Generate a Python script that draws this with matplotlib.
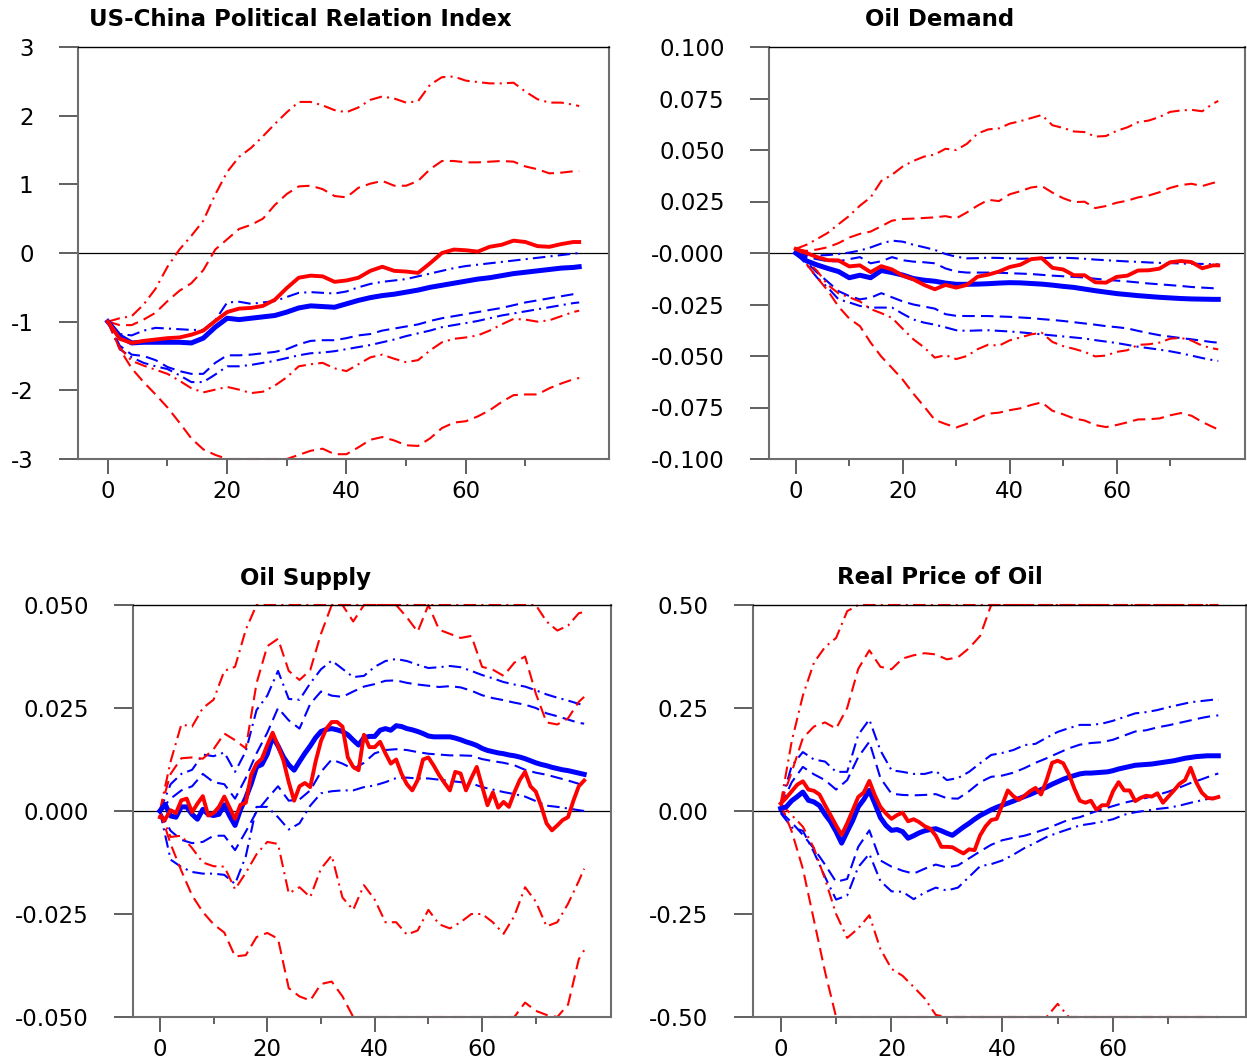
import numpy as np
import matplotlib
matplotlib.use("Agg")
import matplotlib.pyplot as plt

plt.rcParams['font.family'] = 'DejaVu Sans'
plt.rcParams['axes.unicode_minus'] = False

# horizons: mean lines of the lower panels are read every step, the rest every 2 steps
T_FINE = np.arange(80)
T_BAND = np.r_[np.arange(0, 80, 2), 79]

TITLES = ["US-China Political Relation Index", "Oil Demand", "Oil Supply", "Real Price of Oil"]

# naming: _DD = dash-dot band, _DA = dashed band, HI/LO = above/below the mean

# ---------------- US-China Political Relation Index ----------------
P1_YTICKS = [3, 2, 1, 0, -1, -2, -3]
P1_YLABELS = ["3", "2", "1", "0", "-1", "-2", "-3"]
P1_BLUE_MEAN = [-1.00, -1.21, -1.31, -1.30, -1.30, -1.30, -1.30, -1.31, -1.24, -1.08,
                -0.95, -0.97, -0.95, -0.93, -0.91, -0.86, -0.80, -0.77, -0.78, -0.79,
                -0.74, -0.69, -0.65, -0.62, -0.60, -0.57, -0.54, -0.50, -0.47, -0.44,
                -0.41, -0.38, -0.36, -0.33, -0.30, -0.28, -0.26, -0.24, -0.22, -0.21, -0.20]
P1_BLUE_HI_DD = [-1.00, -1.18, -1.20, -1.13, -1.09, -1.10, -1.11, -1.12, -1.12, -0.98,
                 -0.72, -0.71, -0.74, -0.72, -0.70, -0.64, -0.58, -0.57, -0.58, -0.59,
                 -0.56, -0.50, -0.45, -0.42, -0.40, -0.38, -0.34, -0.30, -0.26, -0.22,
                 -0.19, -0.17, -0.15, -0.13, -0.11, -0.09, -0.07, -0.05, -0.03, -0.01, 0.00]
P1_BLUE_HI_DA = None
P1_BLUE_LO_DA = [-1.00, -1.35, -1.48, -1.50, -1.56, -1.66, -1.72, -1.76, -1.76, -1.60,
                 -1.49, -1.49, -1.48, -1.46, -1.44, -1.40, -1.33, -1.28, -1.27, -1.27,
                 -1.24, -1.20, -1.18, -1.13, -1.10, -1.07, -1.04, -0.99, -0.95, -0.92,
                 -0.89, -0.86, -0.83, -0.80, -0.76, -0.72, -0.69, -0.66, -0.63, -0.60, -0.59]
P1_BLUE_LO_DD = [-1.00, -1.40, -1.52, -1.60, -1.65, -1.69, -1.78, -1.88, -1.88, -1.77,
                 -1.65, -1.65, -1.63, -1.60, -1.57, -1.53, -1.49, -1.46, -1.45, -1.43,
                 -1.40, -1.37, -1.34, -1.30, -1.26, -1.21, -1.17, -1.13, -1.08, -1.05,
                 -1.02, -0.99, -0.95, -0.91, -0.88, -0.85, -0.82, -0.79, -0.76, -0.73, -0.72]
P1_RED_MEAN = [-1.00, -1.25, -1.31, -1.28, -1.26, -1.24, -1.23, -1.19, -1.13, -0.99,
               -0.86, -0.81, -0.80, -0.77, -0.68, -0.51, -0.36, -0.33, -0.34, -0.42,
               -0.40, -0.36, -0.26, -0.20, -0.26, -0.27, -0.29, -0.15, 0.00, 0.05,
               0.04, 0.02, 0.09, 0.12, 0.18, 0.16, 0.10, 0.09, 0.13, 0.16, 0.16]
P1_RED_HI_DD = [-1.00, -0.95, -0.92, -0.75, -0.52, -0.20, 0.05, 0.25, 0.47, 0.85,
                1.18, 1.40, 1.53, 1.70, 1.88, 2.05, 2.20, 2.20, 2.15, 2.08,
                2.05, 2.12, 2.23, 2.28, 2.25, 2.19, 2.21, 2.45, 2.56, 2.57,
                2.51, 2.49, 2.47, 2.47, 2.48, 2.35, 2.24, 2.19, 2.19, 2.16, 2.14]
P1_RED_HI_DA = [-1.00, -1.05, -1.05, -0.97, -0.87, -0.70, -0.55, -0.44, -0.25, 0.05,
                0.20, 0.35, 0.41, 0.50, 0.70, 0.86, 0.97, 0.98, 0.93, 0.83,
                0.81, 0.95, 1.01, 1.05, 0.98, 0.98, 1.05, 1.22, 1.34, 1.34,
                1.32, 1.32, 1.33, 1.34, 1.33, 1.26, 1.22, 1.16, 1.17, 1.19, 1.19]
P1_RED_LO_DD = [-1.00, -1.38, -1.57, -1.64, -1.70, -1.76, -1.86, -1.97, -2.03, -1.99,
                -1.95, -1.99, -2.04, -2.02, -1.93, -1.81, -1.65, -1.62, -1.60, -1.68,
                -1.72, -1.62, -1.52, -1.48, -1.54, -1.59, -1.56, -1.42, -1.30, -1.25,
                -1.23, -1.20, -1.13, -1.04, -0.96, -0.97, -1.00, -0.98, -0.92, -0.86, -0.84]
P1_RED_LO_DA = [-1.00, -1.40, -1.68, -1.88, -2.06, -2.25, -2.47, -2.70, -2.86, -2.94,
                -3.00, -3.00, -3.00, -3.00, -3.00, -3.00, -2.94, -2.88, -2.85, -2.93,
                -2.93, -2.83, -2.72, -2.68, -2.73, -2.80, -2.81, -2.70, -2.55, -2.47,
                -2.45, -2.38, -2.29, -2.17, -2.07, -2.06, -2.06, -1.97, -1.90, -1.84, -1.82]

# ---------------- Oil Demand ----------------
P2_YTICKS = [0.1, 0.075, 0.05, 0.025, 0.0, -0.025, -0.05, -0.075, -0.1]
P2_YLABELS = ["0.100", "0.075", "0.050", "0.025", "-0.000", "-0.025", "-0.050", "-0.075", "-0.100"]
P2_BLUE_MEAN = [0.0, -0.0038, -0.0058, -0.0075, -0.009, -0.012, -0.0108, -0.012, -0.0085, -0.0095,
                -0.0107, -0.0124, -0.0132, -0.0137, -0.0146, -0.0152, -0.0152, -0.0151, -0.0149, -0.0146,
                -0.0144, -0.0145, -0.0148, -0.0151, -0.0156, -0.0162, -0.0167, -0.0175, -0.0183, -0.019,
                -0.0197, -0.0202, -0.0207, -0.0211, -0.0215, -0.0218, -0.0221, -0.0223, -0.0224, -0.0225, -0.0225]
P2_BLUE_HI_DD = [0.0, -0.001, -0.0012, -0.001, -0.0005, 0.0002, 0.0012, 0.0027, 0.0046, 0.006,
                 0.0055, 0.004, 0.0028, 0.0015, -0.0005, -0.0018, -0.0026, -0.0025, -0.0023, -0.0024,
                 -0.0026, -0.0028, -0.0027, -0.0025, -0.0023, -0.0023, -0.0025, -0.0028, -0.0032, -0.0035,
                 -0.0038, -0.0041, -0.0043, -0.0046, -0.0048, -0.0049, -0.0051, -0.0052, -0.0053, -0.0055, -0.0055]
P2_BLUE_HI_DA = [0.0, -0.002, -0.003, -0.004, -0.004, -0.003, -0.002, -0.005, -0.004, -0.002,
                 -0.0035, -0.0042, -0.0045, -0.005, -0.0075, -0.009, -0.0095, -0.0095, -0.0095, -0.0096,
                 -0.0098, -0.01, -0.0102, -0.0106, -0.011, -0.0113, -0.0116, -0.0119, -0.0125, -0.013,
                 -0.0134, -0.0138, -0.0143, -0.0148, -0.0152, -0.0156, -0.016, -0.0165, -0.0168, -0.0171, -0.0172]
P2_BLUE_LO_DA = [0.0, -0.0045, -0.0095, -0.014, -0.0185, -0.0209, -0.0225, -0.0217, -0.0195, -0.0215,
                 -0.0235, -0.025, -0.026, -0.027, -0.0297, -0.0305, -0.0306, -0.0306, -0.0306, -0.0308,
                 -0.031, -0.0313, -0.0316, -0.0321, -0.0325, -0.033, -0.0336, -0.0342, -0.0348, -0.0355,
                 -0.036, -0.0366, -0.0378, -0.0389, -0.0399, -0.0406, -0.0413, -0.0419, -0.0426, -0.0433, -0.0435]
P2_BLUE_LO_DD = [0.0, -0.0055, -0.012, -0.0168, -0.0225, -0.024, -0.0257, -0.0265, -0.0265, -0.0265,
                 -0.0295, -0.0323, -0.0338, -0.0348, -0.0361, -0.0375, -0.0378, -0.0376, -0.0375, -0.0378,
                 -0.0381, -0.0385, -0.039, -0.0395, -0.04, -0.0405, -0.041, -0.0415, -0.0423, -0.043,
                 -0.0437, -0.0446, -0.0455, -0.0462, -0.0469, -0.0477, -0.0487, -0.0498, -0.051, -0.052, -0.0524]
P2_RED_MEAN = [0.002, 0.0, -0.002, -0.0035, -0.0036, -0.0065, -0.006, -0.0093, -0.0064, -0.008,
               -0.011, -0.0128, -0.0155, -0.0176, -0.0155, -0.0168, -0.0155, -0.0115, -0.0105, -0.009,
               -0.0068, -0.0057, -0.003, -0.0025, -0.0072, -0.008, -0.0108, -0.0108, -0.0142, -0.0144,
               -0.0116, -0.011, -0.0085, -0.0084, -0.0076, -0.0045, -0.0039, -0.0044, -0.0074, -0.006, -0.006]
P2_RED_HI_DD = [0.002, 0.004, 0.0068, 0.0098, 0.014, 0.018, 0.023, 0.027, 0.035, 0.038,
                0.042, 0.0447, 0.0468, 0.0478, 0.0506, 0.05, 0.053, 0.058, 0.06, 0.0605,
                0.0628, 0.064, 0.0655, 0.067, 0.062, 0.0607, 0.059, 0.0587, 0.0565, 0.0568,
                0.0593, 0.061, 0.0635, 0.0643, 0.066, 0.0685, 0.0692, 0.0695, 0.0688, 0.0725, 0.0738]
P2_RED_HI_DA = [0.002, 0.001, 0.0017, 0.0028, 0.0048, 0.0075, 0.0093, 0.0104, 0.013, 0.0157,
                0.0165, 0.0167, 0.017, 0.0173, 0.0179, 0.0168, 0.0197, 0.023, 0.0258, 0.0252,
                0.0285, 0.030, 0.0318, 0.0325, 0.0293, 0.0266, 0.0247, 0.0249, 0.0218, 0.0228,
                0.0244, 0.0254, 0.027, 0.0279, 0.0295, 0.0316, 0.033, 0.0336, 0.0325, 0.034, 0.0346]
P2_RED_LO_DD = [0.002, -0.0037, -0.0087, -0.0155, -0.0196, -0.0215, -0.0235, -0.0272, -0.0292, -0.0315,
                -0.0368, -0.0419, -0.0458, -0.0508, -0.0496, -0.0515, -0.05, -0.0467, -0.0445, -0.045,
                -0.0424, -0.041, -0.0395, -0.0387, -0.0432, -0.0452, -0.0465, -0.048, -0.0502, -0.0498,
                -0.048, -0.0472, -0.0446, -0.0443, -0.0435, -0.0416, -0.0412, -0.0425, -0.045, -0.0463, -0.0468]
P2_RED_LO_DA = [0.002, -0.0053, -0.012, -0.0183, -0.026, -0.0318, -0.0355, -0.0435, -0.0503, -0.0558,
                -0.0615, -0.0683, -0.0745, -0.081, -0.083, -0.0847, -0.0829, -0.0803, -0.078, -0.0775,
                -0.0763, -0.0754, -0.0738, -0.0725, -0.0766, -0.0783, -0.0803, -0.0813, -0.0835, -0.0845,
                -0.0835, -0.0822, -0.0808, -0.0807, -0.0803, -0.0788, -0.0777, -0.079, -0.082, -0.0845, -0.0856]

# ---------------- Oil Supply ----------------
P3_YTICKS = [0.05, 0.025, 0.0, -0.025, -0.05]
P3_YLABELS = ["0.050", "0.025", "0.000", "-0.025", "-0.050"]
P3_BLUE_MEAN = [0.0, 0.0016, -0.0012, -0.0015, 0.001, 0.001, -0.0008, -0.002, 0.0004, -0.0008,
                -0.0011, -0.0008, 0.0015, -0.0012, -0.0035, 0.0003, 0.0032, 0.0066, 0.0107, 0.0113,
                0.0138, 0.018, 0.0158, 0.0131, 0.0112, 0.0099, 0.012, 0.014, 0.0158, 0.0178,
                0.0193, 0.0198, 0.02, 0.0197, 0.0193, 0.0185, 0.0172, 0.016, 0.0178, 0.0181,
                0.0181, 0.0196, 0.02, 0.0196, 0.0207, 0.0205, 0.02, 0.0197, 0.0193, 0.0188,
                0.0182, 0.018, 0.018, 0.018, 0.018, 0.0177, 0.0173, 0.0168, 0.0164, 0.0159,
                0.0152, 0.0147, 0.0144, 0.0141, 0.0139, 0.0136, 0.0134, 0.0131, 0.0127, 0.0122,
                0.0117, 0.0113, 0.011, 0.0106, 0.0103, 0.01, 0.0098, 0.0095, 0.0092, 0.0089]
P3_BLUE_HI_DD = [0.0, 0.0065, 0.009, 0.01, 0.0137, 0.0133, 0.0142, 0.0095, 0.0145, 0.0245,
                 0.028, 0.034, 0.0272, 0.027, 0.031, 0.0344, 0.0365, 0.0345, 0.0325, 0.0328,
                 0.035, 0.0364, 0.0369, 0.0364, 0.0355, 0.0347, 0.0349, 0.0352, 0.0349, 0.034,
                 0.033, 0.0322, 0.0313, 0.0307, 0.0302, 0.0293, 0.0283, 0.0275, 0.0268, 0.026, 0.0257]
P3_BLUE_HI_DA = [0.0, 0.003, 0.005, 0.006, 0.009, 0.007, 0.0065, 0.003, 0.008, 0.014,
                 0.019, 0.025, 0.022, 0.02, 0.026, 0.029, 0.028, 0.0277, 0.029, 0.0302,
                 0.0308, 0.0316, 0.0317, 0.0311, 0.0307, 0.0304, 0.0301, 0.0303, 0.03, 0.0292,
                 0.0281, 0.0274, 0.0269, 0.0263, 0.0258, 0.025, 0.0237, 0.023, 0.0222, 0.0214, 0.0212]
P3_BLUE_LO_DA = [0.0, -0.0048, -0.007, -0.0078, -0.0075, -0.006, -0.006, -0.0095, -0.005, -0.0002,
                 0.003, 0.006, 0.0025, 0.0028, 0.005, 0.0095, 0.0125, 0.0115, 0.0102, 0.0117,
                 0.014, 0.0148, 0.015, 0.0148, 0.0143, 0.0139, 0.0137, 0.0135, 0.0135, 0.0134,
                 0.0126, 0.0121, 0.0117, 0.0111, 0.01, 0.0093, 0.0088, 0.0081, 0.0074, 0.0066, 0.0062]
P3_BLUE_LO_DD = [0.0, -0.0118, -0.0136, -0.0148, -0.0152, -0.0152, -0.0155, -0.0177, -0.011, 0.001,
                 0.001, -0.0015, -0.0045, -0.003, 0.0013, 0.0043, 0.0048, 0.005, 0.005, 0.0058,
                 0.0062, 0.007, 0.008, 0.0081, 0.0079, 0.0079, 0.0076, 0.0073, 0.007, 0.0067,
                 0.0058, 0.0052, 0.0046, 0.0041, 0.0035, 0.0024, 0.0013, 0.001, 0.0006, 0.0002, 0.0]
P3_RED_MEAN = [-0.0015, -0.002, 0.0002, -0.0005, 0.0026, 0.003, -0.0003, 0.0018, 0.0036, -0.0011,
               -0.0005, 0.001, 0.0035, 0.0008, -0.0019, 0.0015, 0.002, 0.0088, 0.0115, 0.0127,
               0.016, 0.019, 0.0158, 0.0123, 0.007, 0.0025, 0.006, 0.0068, 0.0058, 0.012,
               0.017, 0.02, 0.0216, 0.0216, 0.0205, 0.013, 0.0107, 0.0099, 0.0185, 0.0155,
               0.0155, 0.0168, 0.014, 0.0115, 0.0125, 0.009, 0.0065, 0.005, 0.0075, 0.0125,
               0.013, 0.011, 0.0087, 0.0068, 0.005, 0.0095, 0.0091, 0.005, 0.008, 0.0107,
               0.006, 0.0014, 0.0045, 0.0008, 0.0022, 0.001, 0.0045, 0.0075, 0.0095, 0.006,
               0.0047, 0.0012, -0.003, -0.0047, -0.0035, -0.0022, -0.0015, 0.0025, 0.006, 0.0074]
P3_RED_HI_DD = [0.0, 0.012, 0.021, 0.0205, 0.025, 0.027, 0.034, 0.035, 0.044, 0.05,
                0.05, 0.05, 0.05, 0.05, 0.05, 0.05, 0.05, 0.05, 0.05, 0.05,
                0.05, 0.05, 0.05, 0.05, 0.05, 0.05, 0.05, 0.05, 0.05, 0.05,
                0.05, 0.05, 0.05, 0.05, 0.05, 0.05, 0.046, 0.0438, 0.045, 0.048, 0.0483]
P3_RED_HI_DA = [0.0, 0.009, 0.0128, 0.013, 0.0127, 0.015, 0.0188, 0.0172, 0.0152, 0.031,
                0.04, 0.0418, 0.034, 0.0318, 0.0342, 0.043, 0.05, 0.05, 0.046, 0.05,
                0.05, 0.05, 0.05, 0.047, 0.0435, 0.05, 0.044, 0.043, 0.042, 0.0425,
                0.035, 0.0343, 0.0328, 0.036, 0.0375, 0.0285, 0.0215, 0.021, 0.0225, 0.0265, 0.0277]
P3_RED_LO_DD = [0.0, -0.0063, -0.006, -0.009, -0.0125, -0.0134, -0.0135, -0.019, -0.015, -0.0105,
                -0.0075, -0.008, -0.02, -0.0185, -0.0209, -0.014, -0.0108, -0.021, -0.024, -0.018,
                -0.0215, -0.027, -0.027, -0.03, -0.029, -0.024, -0.0275, -0.0285, -0.027, -0.025,
                -0.025, -0.027, -0.0298, -0.0255, -0.0185, -0.022, -0.028, -0.027, -0.0225, -0.017, -0.014]
P3_RED_LO_DA = [0.0, -0.008, -0.0145, -0.0205, -0.0245, -0.0275, -0.0295, -0.0353, -0.035, -0.0306,
                -0.0296, -0.031, -0.043, -0.045, -0.046, -0.042, -0.0414, -0.045, -0.05, -0.05,
                -0.05, -0.05, -0.05, -0.05, -0.05, -0.05, -0.05, -0.05, -0.05, -0.05,
                -0.05, -0.05, -0.05, -0.05, -0.0465, -0.0485, -0.0495, -0.05, -0.047, -0.036, -0.0338]

# ---------------- Real Price of Oil ----------------
P4_YTICKS = [0.5, 0.25, 0.0, -0.25, -0.5]
P4_YLABELS = ["0.50", "0.25", "0.00", "-0.25", "-0.50"]
P4_BLUE_MEAN = [0.006, 0.01, 0.025, 0.035, 0.046, 0.026, 0.022, 0.013, -0.008, -0.026,
                -0.05, -0.078, -0.05, -0.023, 0.01, 0.028, 0.05, 0.018, -0.016, -0.035,
                -0.047, -0.045, -0.05, -0.066, -0.06, -0.053, -0.048, -0.045, -0.043, -0.048,
                -0.054, -0.059, -0.049, -0.039, -0.03, -0.02, -0.011, -0.004, 0.003, 0.009,
                0.014, 0.019, 0.024, 0.03, 0.035, 0.04, 0.046, 0.052, 0.058, 0.065,
                0.071, 0.077, 0.082, 0.086, 0.09, 0.092, 0.092, 0.093, 0.094, 0.095,
                0.098, 0.102, 0.105, 0.108, 0.111, 0.112, 0.113, 0.114, 0.116, 0.118,
                0.12, 0.122, 0.125, 0.128, 0.13, 0.132, 0.133, 0.134, 0.134, 0.134]
P4_BLUE_HI_DD = [0.018, 0.11, 0.143, 0.125, 0.12, 0.095, 0.095, 0.185, 0.222, 0.147,
                 0.099, 0.095, 0.09, 0.09, 0.097, 0.075, 0.08, 0.095, 0.116, 0.136,
                 0.141, 0.148, 0.16, 0.163, 0.178, 0.192, 0.201, 0.209, 0.209, 0.212,
                 0.219, 0.228, 0.237, 0.24, 0.245, 0.252, 0.258, 0.264, 0.267, 0.27, 0.27]
P4_BLUE_HI_DA = [0.012, 0.07, 0.107, 0.089, 0.075, 0.052, 0.075, 0.131, 0.168, 0.08,
                 0.042, 0.039, 0.038, 0.039, 0.041, 0.031, 0.03, 0.048, 0.07, 0.083,
                 0.086, 0.093, 0.104, 0.117, 0.128, 0.14, 0.152, 0.161, 0.165, 0.167,
                 0.173, 0.183, 0.193, 0.196, 0.203, 0.208, 0.214, 0.22, 0.226, 0.231, 0.232]
P4_BLUE_LO_DA = [-0.002, -0.028, -0.058, -0.091, -0.13, -0.172, -0.165, -0.087, -0.047, -0.12,
                 -0.135, -0.145, -0.152, -0.14, -0.13, -0.137, -0.132, -0.115, -0.098, -0.082,
                 -0.071, -0.065, -0.06, -0.052, -0.043, -0.032, -0.021, -0.015, -0.005, 0.004,
                 0.012, 0.02, 0.026, 0.032, 0.039, 0.047, 0.057, 0.068, 0.077, 0.087, 0.091]
P4_BLUE_LO_DD = [-0.005, -0.04, -0.048, -0.1, -0.16, -0.215, -0.205, -0.136, -0.104, -0.17,
                 -0.195, -0.196, -0.214, -0.198, -0.186, -0.193, -0.186, -0.16, -0.134, -0.129,
                 -0.12, -0.106, -0.09, -0.077, -0.063, -0.053, -0.044, -0.035, -0.031, -0.026,
                 -0.02, -0.009, -0.003, 0.001, 0.005, 0.008, 0.013, 0.02, 0.026, 0.032, 0.034]
P4_RED_MEAN = [0.018, 0.032, 0.048, 0.064, 0.072, 0.052, 0.049, 0.04, 0.014, -0.01,
               -0.035, -0.058, -0.03, 0.002, 0.034, 0.045, 0.073, 0.038, 0.01, -0.006,
               -0.019, -0.01, -0.004, -0.025, -0.02, -0.027, -0.037, -0.043, -0.06, -0.087,
               -0.087, -0.088, -0.096, -0.103, -0.093, -0.095, -0.059, -0.037, -0.022, -0.019,
               0.015, 0.05, 0.036, 0.027, 0.037, 0.048, 0.056, 0.04, 0.075, 0.117,
               0.122, 0.116, 0.09, 0.055, 0.025, 0.02, 0.025, 0.003, 0.014, 0.014,
               0.048, 0.07, 0.05, 0.05, 0.024, 0.032, 0.037, 0.035, 0.043, 0.02,
               0.035, 0.05, 0.066, 0.075, 0.105, 0.07, 0.045, 0.032, 0.03, 0.034]
P4_RED_HI_DD = [0.018, 0.17, 0.28, 0.36, 0.398, 0.42, 0.485, 0.5, 0.5, 0.5,
                0.5, 0.5, 0.5, 0.5, 0.5, 0.5, 0.5, 0.5, 0.5, 0.5,
                0.5, 0.5, 0.5, 0.5, 0.5, 0.5, 0.5, 0.5, 0.5, 0.5,
                0.5, 0.5, 0.5, 0.5, 0.5, 0.5, 0.5, 0.5, 0.5, 0.5, 0.5]
P4_RED_HI_DA = [0.018, 0.095, 0.177, 0.205, 0.215, 0.2, 0.25, 0.345, 0.39, 0.35,
                0.344, 0.37, 0.378, 0.383, 0.38, 0.368, 0.373, 0.395, 0.425, 0.5,
                0.5, 0.5, 0.5, 0.5, 0.5, 0.5, 0.5, 0.5, 0.5, 0.5,
                0.5, 0.5, 0.5, 0.5, 0.5, 0.5, 0.5, 0.5, 0.5, 0.5, 0.5]
P4_RED_LO_DD = [0.018, -0.01, -0.038, -0.09, -0.165, -0.25, -0.308, -0.285, -0.253, -0.335,
                -0.383, -0.4, -0.427, -0.455, -0.495, -0.5, -0.5, -0.5, -0.5, -0.5,
                -0.5, -0.5, -0.5, -0.5, -0.5, -0.468, -0.5, -0.5, -0.5, -0.5,
                -0.5, -0.5, -0.5, -0.5, -0.5, -0.5, -0.5, -0.5, -0.5, -0.5, -0.5]
P4_RED_LO_DA = [0.018, -0.05, -0.14, -0.265, -0.39, -0.5, -0.5, -0.5, -0.5, -0.5,
                -0.5, -0.5, -0.5, -0.5, -0.5, -0.5, -0.5, -0.5, -0.5, -0.5,
                -0.5, -0.5, -0.5, -0.5, -0.5, -0.5, -0.5, -0.5, -0.5, -0.5,
                -0.5, -0.5, -0.5, -0.5, -0.5, -0.5, -0.5, -0.5, -0.5, -0.5, -0.5]

BLUE = '#0000ff'
RED = '#ff0000'
DASH = (0, (6, 3))
DASHDOT = (0, (6, 2.5, 1, 2.5))

W, H = 1247, 1063
# axes boxes in pixels: left, top, right, bottom
BOXES = [(78, 47, 609, 459), (769, 47, 1245, 459),
         (133, 605, 611, 1017), (753, 605, 1246, 1017)]
TITLE_POS = [(300, 19), (940, 19), (305, 578), (940, 578)]


def xvals(vals):
    return T_FINE if len(vals) == len(T_FINE) else T_BAND


def draw_panel(ax, blue, red, yticks, ylabels):
    ax.axhline(0, color='black', lw=0.9, zorder=1)
    for group, color in ((blue, BLUE), (red, RED)):
        mean, hi_dd, hi_da, lo_da, lo_dd = group
        for vals, ls in ((hi_dd, DASHDOT), (hi_da, DASH), (lo_da, DASH), (lo_dd, DASHDOT)):
            if vals is None:
                continue
            ax.plot(xvals(vals), vals, color=color, lw=1.5, linestyle=ls,
                    zorder=2, clip_on=False)
    bm = blue[0]
    ax.plot(xvals(bm), bm, color=BLUE, lw=3.6, zorder=3, clip_on=False)
    rm = red[0]
    ax.plot(xvals(rm), rm, color=RED, lw=2.8, zorder=4, clip_on=False)

    ax.set_xlim(-5, 84)
    ax.set_ylim(min(yticks), max(yticks))
    ax.set_xticks([0, 20, 40, 60])
    ax.set_xticks([10, 30, 50, 70], minor=True)
    ax.set_yticks(yticks)
    ax.set_yticklabels(ylabels)
    ax.tick_params(axis='x', which='major', length=11, width=1.2, pad=4,
                   labelsize=16.5, color='#444444')
    ax.tick_params(axis='x', which='minor', length=5, width=1.2, color='#444444')
    ax.tick_params(axis='y', length=14, width=1.2, pad=18, labelsize=16.5,
                   color='#444444')
    for side in ('left', 'right', 'bottom'):
        ax.spines[side].set_color('#6e6e6e')
        ax.spines[side].set_linewidth(1.5)
    ax.spines['top'].set_color('black')
    ax.spines['top'].set_linewidth(1.0)


fig = plt.figure(figsize=(W / 100, H / 100), dpi=100)

# each group: mean, upper dash-dot, upper dashed, lower dashed, lower dash-dot
panels = [
    ((P1_BLUE_MEAN, P1_BLUE_HI_DD, P1_BLUE_HI_DA, P1_BLUE_LO_DA, P1_BLUE_LO_DD),
     (P1_RED_MEAN, P1_RED_HI_DD, P1_RED_HI_DA, P1_RED_LO_DA, P1_RED_LO_DD),
     P1_YTICKS, P1_YLABELS),
    ((P2_BLUE_MEAN, P2_BLUE_HI_DD, P2_BLUE_HI_DA, P2_BLUE_LO_DA, P2_BLUE_LO_DD),
     (P2_RED_MEAN, P2_RED_HI_DD, P2_RED_HI_DA, P2_RED_LO_DA, P2_RED_LO_DD),
     P2_YTICKS, P2_YLABELS),
    ((P3_BLUE_MEAN, P3_BLUE_HI_DD, P3_BLUE_HI_DA, P3_BLUE_LO_DA, P3_BLUE_LO_DD),
     (P3_RED_MEAN, P3_RED_HI_DD, P3_RED_HI_DA, P3_RED_LO_DA, P3_RED_LO_DD),
     P3_YTICKS, P3_YLABELS),
    ((P4_BLUE_MEAN, P4_BLUE_HI_DD, P4_BLUE_HI_DA, P4_BLUE_LO_DA, P4_BLUE_LO_DD),
     (P4_RED_MEAN, P4_RED_HI_DD, P4_RED_HI_DA, P4_RED_LO_DA, P4_RED_LO_DD),
     P4_YTICKS, P4_YLABELS),
]

for i, (blue, red, yt, yl) in enumerate(panels):
    l, t, r, b = BOXES[i]
    ax = fig.add_axes([l / W, 1 - b / H, (r - l) / W, (b - t) / H])
    draw_panel(ax, blue, red, yt, yl)
    tx, ty = TITLE_POS[i]
    fig.text(tx / W, 1 - ty / H, TITLES[i], ha='center', va='center',
             fontsize=16.5, fontweight='bold')

fig.savefig('out.png', dpi=100)
